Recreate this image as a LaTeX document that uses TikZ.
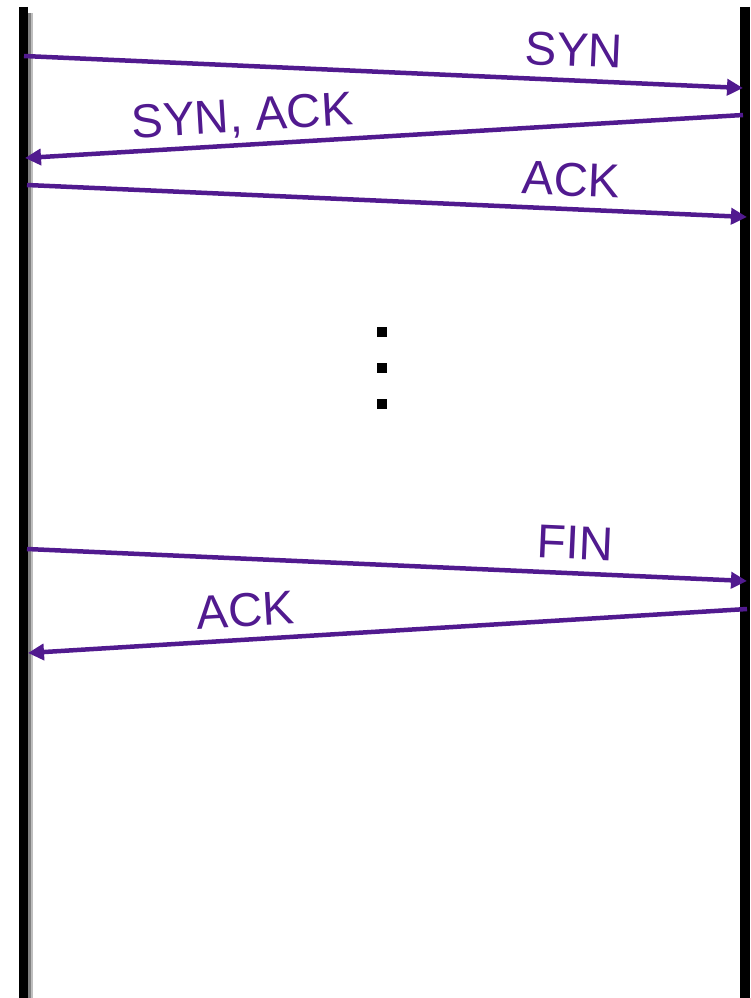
\documentclass[tikz,border=0pt]{standalone}
\usepackage{fontspec}
\setmainfont{Liberation Sans}
\usetikzlibrary{arrows.meta}
\definecolor{msgpurple}{RGB}{81,26,143}
\begin{document}
\begin{tikzpicture}[x=1pt,y=-1pt,
	msg/.style={draw=msgpurple,line width=4.5pt,-{Triangle[length=16pt,width=16pt]}},
	lbl/.style={text=msgpurple,inner sep=0pt,text depth=0pt,font=\fontsize{47.5}{52}\selectfont},
	life/.style={line width=9.5pt,black},
	shade/.style={line width=#1,black!25},
	dot/.style={fill=black,inner sep=0pt,minimum size=10pt}]
	\useasboundingbox (0,0) rectangle (750,998);
	%\draw[step=50,gray!15] (0,0) grid (750,998); %Hilfsgitter
	\coordinate (Ltop) at (23.5,7); \coordinate (Lbot) at (23.5,998); \coordinate (Rtop) at (745,7); \coordinate (Rbot) at (745,998);
	\draw[shade=8pt] ([xshift=5pt,yshift=-6pt]Ltop) -- ([xshift=5pt]Lbot); \draw[shade=4pt,black!50] ([xshift=5pt,yshift=-6pt]Ltop) -- ([xshift=5pt]Lbot);
	\draw[life] (Ltop) -- (Lbot); \draw[life] (Rtop) -- (Rbot);
	
	\coordinate (L1) at (24,56); \coordinate (R1) at (743,88); \coordinate (R2) at (743,115); \coordinate (L2) at (25,158);
	\coordinate (L3) at (27,185); \coordinate (R3) at (747,217);
	\coordinate (L4) at (27,549); \coordinate (R4) at (747,581); \coordinate (R5) at (747,609); \coordinate (L5) at (28,653);
	
	\draw[msg] (L1) --node[lbl,pos=0.763,sloped,above=12pt]{SYN} (R1); \draw[msg] (R2) --node[lbl,pos=0.695,sloped,above=11pt]{SYN, ACK} (L2);
	\draw[msg] (L3) --node[lbl,pos=0.754,sloped,above=11pt]{ACK} (R3);
	
	\node[dot] (d1) at (382,332) {}; \node[dot] (d2) at (382,368) {}; \node[dot] (d3) at (382,404) {};
	
	\draw[msg] (L4) --node[lbl,pos=0.76,sloped,above=12pt]{FIN} (R4); \draw[msg] (R5) --node[lbl,pos=0.695,sloped,above=11pt]{ACK} (L5);
\end{tikzpicture}
\end{document}
